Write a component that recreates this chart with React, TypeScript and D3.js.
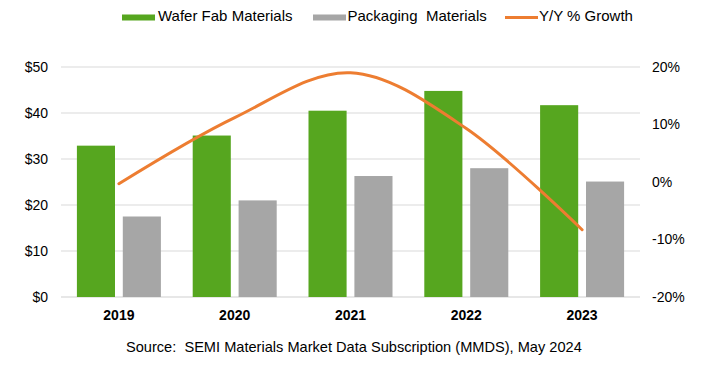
import React from "react";
import * as d3 from "d3";

const years = ["2019", "2020", "2021", "2022", "2023"];
const waferFab = [32.9, 35.1, 40.5, 44.8, 41.7];
const packaging = [17.5, 21.0, 26.3, 28.0, 25.1];
const growth = [-0.3, 11.2, 19.0, 9.3, -8.3];
const leftTicks = [0, 10, 20, 30, 40, 50];
const rightTicks = [-20, -10, 0, 10, 20];

const W = 702;
const H = 365;
const left = 61;
const right = 640;
const top = 67;
const bottom = 297;
const font = "'Liberation Sans', Arial, Helvetica, sans-serif";

export default function App() {
  const x0 = d3.scaleBand<string>().domain(years).range([left, right]).padding(0);
  const yL = d3.scaleLinear().domain([0, 50]).range([bottom, top]);
  const yR = d3.scaleLinear().domain([-20, 20]).range([bottom, top]);
  const half = 42;
  const x1 = d3.scaleBand<string>().domain(["w", "p"]).range([0, half * 2]).paddingInner(0.17);

  const cx = (y: string) => (x0(y) as number) + x0.bandwidth() / 2;
  const line = d3
    .line<number>()
    .x((_, i) => cx(years[i]))
    .y((d) => yR(d))
    .curve(d3.curveCatmullRom.alpha(0));

  return (
    <svg width={W} height={H} style={{ position: "absolute", left: 0, top: 0, background: "#fff" }}>
      {/* gridlines */}
      {leftTicks.map((t) => (
        <line key={t} x1={left} x2={right} y1={yL(t)} y2={yL(t)} stroke={t === 0 ? "#cfcfcf" : "#d9d9d9"} strokeWidth={1} />
      ))}
      {/* bars */}
      {years.map((y, i) => {
        const g0 = cx(y) - half;
        return (
          <g key={y}>
            <rect x={g0 + (x1("w") as number)} width={x1.bandwidth()} y={yL(waferFab[i])} height={yL(0) - yL(waferFab[i])} fill="#56A61F" />
            <rect x={g0 + (x1("p") as number)} width={x1.bandwidth()} y={yL(packaging[i])} height={yL(0) - yL(packaging[i])} fill="#A6A6A6" />
          </g>
        );
      })}
      {/* growth line */}
      <path d={line(growth) as string} fill="none" stroke="#ED7D31" strokeWidth={3} strokeLinecap="round" />
      {/* left axis labels */}
      {leftTicks.map((t) => (
        <text key={t} x={48} y={yL(t)} dy="0.35em" textAnchor="end" fontFamily={font} fontSize={14} fill="#000">
          {"$" + t}
        </text>
      ))}
      {/* right axis labels */}
      {rightTicks.map((t) => (
        <text key={t} x={652} y={yR(t)} dy="0.35em" textAnchor="start" fontFamily={font} fontSize={14} fill="#000">
          {t + "%"}
        </text>
      ))}
      {/* x labels */}
      {years.map((y) => (
        <text key={y} x={cx(y)} y={320} textAnchor="middle" fontFamily={font} fontSize={14} fontWeight="bold" fill="#000">
          {y}
        </text>
      ))}
      {/* legend */}
      <rect x={122} y={14.5} width={33} height={6} fill="#56A61F" />
      <text x={158} y={20.5} fontFamily={font} fontSize={15} fill="#000">Wafer Fab Materials</text>
      <rect x={313} y={14.5} width={33} height={6} fill="#A6A6A6" />
      <text x={347.5} y={20.5} fontFamily={font} fontSize={15} fill="#000" style={{ whiteSpace: "pre" }}>{"Packaging  Materials"}</text>
      <line x1={505} x2={538} y1={17.5} y2={17.5} stroke="#ED7D31" strokeWidth={3} />
      <text x={539} y={20.5} fontFamily={font} fontSize={15} fill="#000">Y/Y % Growth</text>
      {/* source */}
      <text x={126} y={352} fontFamily={font} fontSize={14.6} fill="#000" style={{ whiteSpace: "pre" }}>
        {"Source:  SEMI Materials Market Data Subscription (MMDS), May 2024"}
      </text>
    </svg>
  );
}
